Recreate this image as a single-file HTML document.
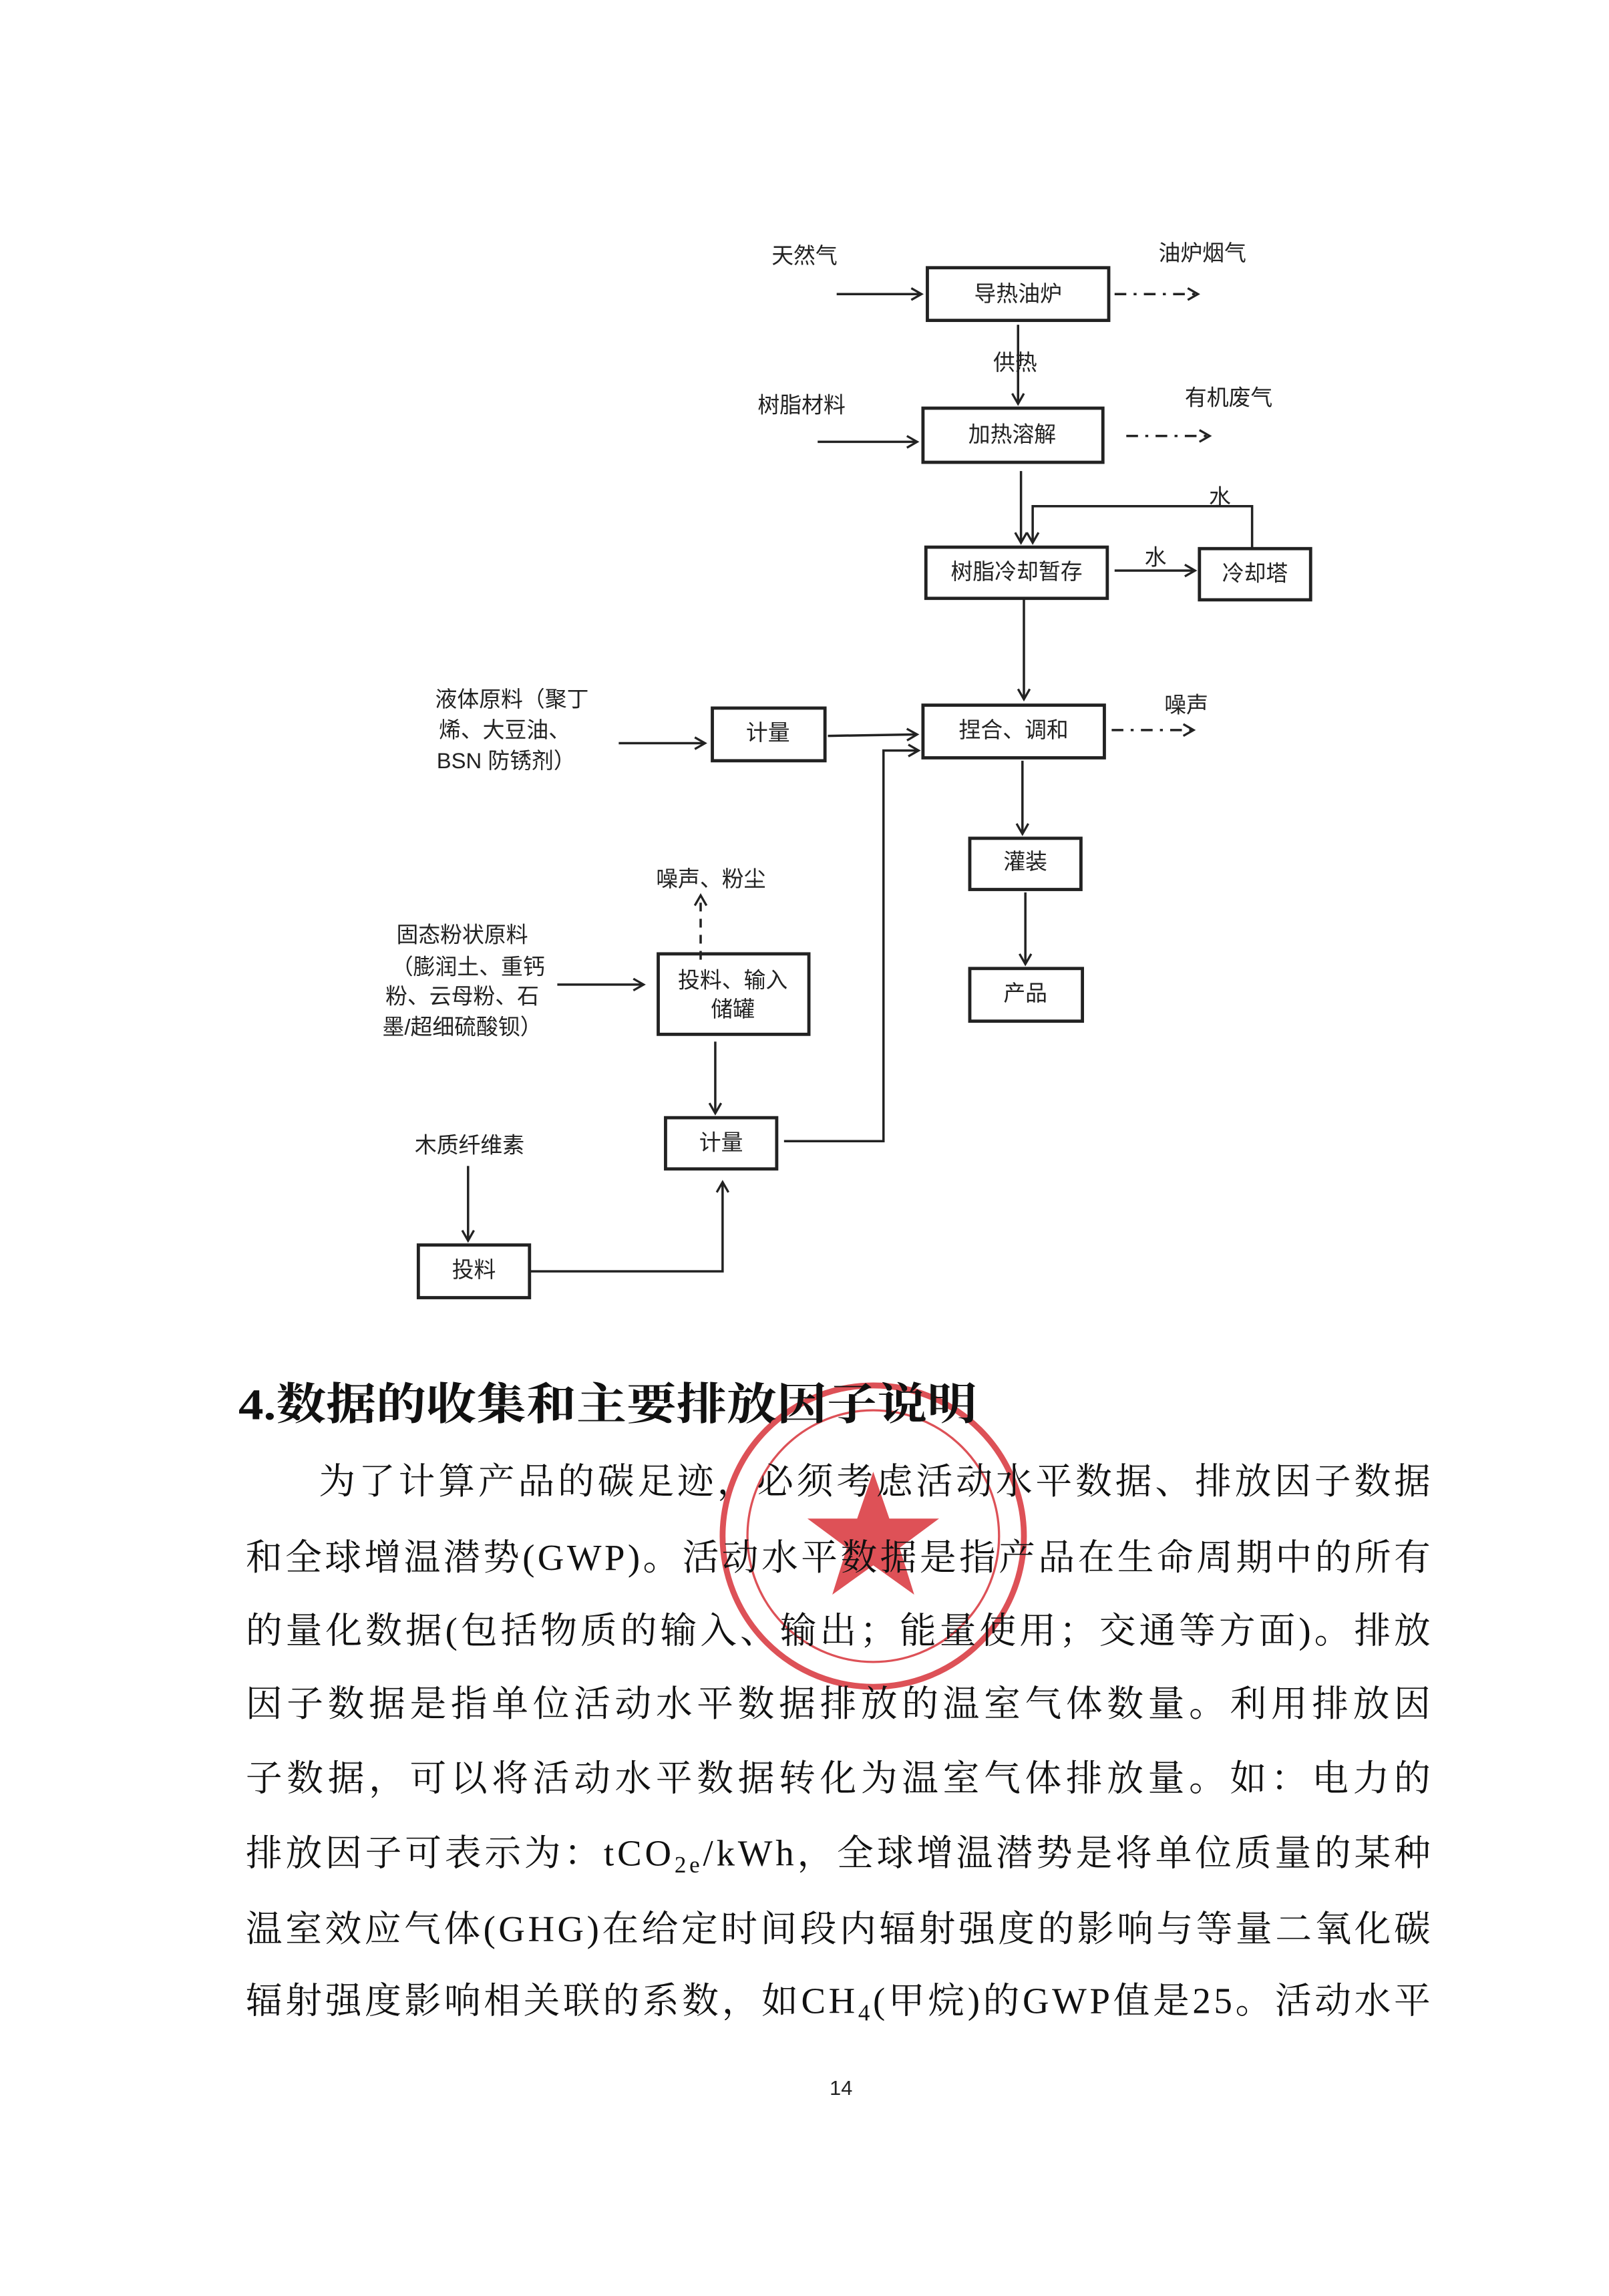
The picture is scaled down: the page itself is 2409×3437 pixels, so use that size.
<!DOCTYPE html>
<html><head><meta charset="utf-8"><style>
html,body{margin:0;padding:0;background:#fff;}
svg{display:block;}
</style></head><body>
<svg width="2409" height="3437" viewBox="0 0 1100 1569.4" preserveAspectRatio="none" xmlns="http://www.w3.org/2000/svg">
<defs>
<marker id="a" markerWidth="10" markerHeight="10" refX="8" refY="5" orient="auto" markerUnits="userSpaceOnUse">
<path d="M1,1 L8,5 L1,9" fill="none" stroke="#222" stroke-width="1.5"/>
</marker>
</defs>
<rect width="1100" height="1570" fill="#fff"/>
<g font-family="Liberation Sans, Noto Sans CJK SC, sans-serif" font-size="15" fill="#222" text-anchor="middle">
<g fill="none" stroke="#222" stroke-width="2.2">
<rect x="634" y="183" width="124" height="36"/>
<rect x="631" y="279" width="123" height="37"/>
<rect x="633" y="374" width="124" height="35"/>
<rect x="820" y="375" width="76" height="35"/>
<rect x="631" y="482" width="124" height="36"/>
<rect x="487" y="484" width="77" height="36"/>
<rect x="663" y="573" width="76" height="35"/>
<rect x="663" y="662" width="77" height="36"/>
<rect x="450" y="652" width="103" height="55"/>
<rect x="455" y="764" width="76" height="35"/>
<rect x="286" y="851" width="76" height="36"/>
</g>
<g fill="none" stroke="#222" stroke-width="1.6" marker-end="url(#a)">
<line x1="572" y1="201" x2="630" y2="201"/>
<line x1="696" y1="222" x2="696" y2="276"/>
<line x1="559" y1="302" x2="627" y2="302"/>
<line x1="698" y1="322" x2="698" y2="371"/>
<polyline points="856,375 856,346 706,346 706,371"/>
<line x1="762" y1="390" x2="817" y2="390"/>
<line x1="700" y1="410" x2="700" y2="478"/>
<line x1="423" y1="508" x2="482" y2="508"/>
<line x1="566" y1="503" x2="627" y2="502"/>
<polyline points="536,780 604,780 604,513 628,513"/>
<line x1="699" y1="520" x2="699" y2="570"/>
<line x1="701" y1="610" x2="701" y2="659"/>
<line x1="381" y1="673" x2="440" y2="673"/>
<line x1="489" y1="712" x2="489" y2="761"/>
<line x1="320" y1="797" x2="320" y2="848"/>
<polyline points="362,869 494,869 494,808"/>
<line x1="762" y1="201" x2="819" y2="201" stroke-dasharray="8,5,2,5"/>
<line x1="770" y1="298" x2="827" y2="298" stroke-dasharray="8,5,2,5"/>
<line x1="760" y1="499" x2="816" y2="499" stroke-dasharray="8,5,2,5"/>
<line x1="479" y1="656" x2="479" y2="612" stroke-dasharray="6,5"/>
</g>
<text x="696" y="206">导热油炉</text>
<text x="692" y="302">加热溶解</text>
<text x="695" y="396">树脂冷却暂存</text>
<text x="858" y="397">冷却塔</text>
<text x="693" y="504">捏合、调和</text>
<text x="525" y="506">计量</text>
<text x="701" y="594">灌装</text>
<text x="701" y="684">产品</text>
<text x="501" y="675">投料、输入</text>
<text x="501" y="695">储罐</text>
<text x="493" y="786">计量</text>
<text x="324" y="873">投料</text>
<text x="550" y="180">天然气</text>
<text x="822" y="178">油炉烟气</text>
<text x="694" y="253">供热</text>
<text x="548" y="282">树脂材料</text>
<text x="840" y="277">有机废气</text>
<text x="834" y="345">水</text>
<text x="790" y="386">水</text>
<text x="811" y="487">噪声</text>
<text x="350" y="483">液体原料（聚丁</text>
<text x="345" y="504">烯、大豆油、</text>
<text x="346" y="525">BSN 防锈剂）</text>
<text x="486" y="606">噪声、粉尘</text>
<text x="316" y="644">固态粉状原料</text>
<text x="320" y="666">（膨润土、重钙</text>
<text x="316" y="686">粉、云母粉、石</text>
<text x="316" y="707">墨/超细硫酸钡）</text>
<text x="321" y="788">木质纤维素</text>
</g>
<g fill="none" stroke="#d8333a" opacity="0.85">
<circle cx="597" cy="1050" r="103" stroke-width="4"/>
<circle cx="597" cy="1050" r="86" stroke-width="1.5"/>
</g>
<polygon fill="#d8333a" opacity="0.85" points="597,1006 608,1038 642,1038 615,1058 625,1090 597,1070 569,1090 579,1058 552,1038 586,1038"/>
<g font-family="Liberation Serif, Noto Serif CJK SC, serif" fill="#111">
<text x="163" y="970" font-size="30" font-weight="bold" textLength="505" lengthAdjust="spacingAndGlyphs">4.数据的收集和主要排放因子说明</text>
<g font-size="25">
<text x="218" y="1021" textLength="760" lengthAdjust="spacing">为了计算产品的碳足迹，必须考虑活动水平数据、排放因子数据</text>
<text x="168" y="1073" textLength="810" lengthAdjust="spacing">和全球增温潜势(GWP)。活动水平数据是指产品在生命周期中的所有</text>
<text x="168" y="1123" textLength="810" lengthAdjust="spacing">的量化数据(包括物质的输入、输出；能量使用；交通等方面)。排放</text>
<text x="168" y="1173" textLength="810" lengthAdjust="spacing">因子数据是指单位活动水平数据排放的温室气体数量。利用排放因</text>
<text x="168" y="1224" textLength="810" lengthAdjust="spacing">子数据，可以将活动水平数据转化为温室气体排放量。如：电力的</text>
<text x="168" y="1275" textLength="810" lengthAdjust="spacing">排放因子可表示为：tCO<tspan font-size="16" dy="5">2e</tspan><tspan dy="-5">/kWh，全球增温潜势是将单位质量的某种</tspan></text>
<text x="168" y="1327" textLength="810" lengthAdjust="spacing">温室效应气体(GHG)在给定时间段内辐射强度的影响与等量二氧化碳</text>
<text x="168" y="1376" textLength="810" lengthAdjust="spacing">辐射强度影响相关联的系数，如CH<tspan font-size="16" dy="5">4</tspan><tspan dy="-5">(甲烷)的GWP值是25。活动水平</tspan></text>
</g>
</g>
<text x="575" y="1432" font-family="Liberation Sans, sans-serif" font-size="14" fill="#222" text-anchor="middle">14</text>
</svg>
</body></html>
